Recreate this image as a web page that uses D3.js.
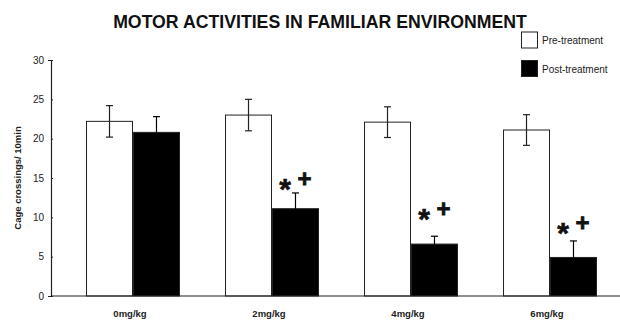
<!DOCTYPE html>
<html>
<head>
<meta charset="utf-8">
<script src="https://cdn.jsdelivr.net/npm/d3@7"></script>
<style>
  html, body { margin: 0; padding: 0; background: #fff; }
  svg { display: block; font-family: "Liberation Sans", Arial, sans-serif; }
</style>
</head>
<body>
<svg id="chart" width="620" height="320"></svg>
<script>
// Dose groups and treatment phases
const doses = ["0mg/kg", "2mg/kg", "4mg/kg", "6mg/kg"];
const phases = ["Pre-treatment", "Post-treatment"];

// Mean cage crossings per 10 min, with error (±)
const preMeans = [22.2, 23.0, 22.1, 21.1];
const preErrors = [2.0, 2.0, 1.95, 1.95];
const postMeans = [20.8, 11.1, 6.6, 4.9];
const postErrors = [2.0, 2.0, 1.0, 2.1];

// Significance markers over the post-treatment bars (value level where they sit)
const markerGroups = ["2mg/kg", "4mg/kg", "6mg/kg"];
const markerLevels = [14.4, 10.5, 8.8];

const yTicks = [0, 5, 10, 15, 20, 25, 30];

const svg = d3.select("#chart");
const colors = { "Pre-treatment": "#ffffff", "Post-treatment": "#000000" };

const y = d3.scaleLinear().domain([0, 30]).range([296, 60]);
const x0 = d3.scaleBand().domain(doses).range([63.5, 619.5])
  .paddingInner(0.324).paddingOuter(0.162);
const x1 = d3.scaleBand().domain(phases).range([0, x0.bandwidth()]).padding(0);

const rows = doses.map((d, i) => ({
  dose: d,
  values: [
    { phase: "Pre-treatment", mean: preMeans[i], err: preErrors[i] },
    { phase: "Post-treatment", mean: postMeans[i], err: postErrors[i] }
  ]
}));

// Title
svg.append("text")
  .attr("x", 320).attr("y", 28)
  .attr("text-anchor", "middle")
  .attr("font-size", 17.7).attr("font-weight", "bold")
  .attr("fill", "#111")
  .text("MOTOR ACTIVITIES IN FAMILIAR ENVIRONMENT");

// Y axis
const yAxis = svg.append("g")
  .attr("transform", "translate(51,0)")
  .call(d3.axisLeft(y).tickValues(yTicks).tickSize(3).tickPadding(4));
yAxis.select(".domain").attr("stroke", "#222").attr("stroke-width", 1.2);
yAxis.selectAll(".tick line").attr("stroke", "#222").attr("x2", 2);
yAxis.selectAll(".tick text").attr("font-size", 10).attr("fill", "#222")
  .attr("font-family", "'Liberation Sans', Arial, sans-serif");

svg.append("text")
  .attr("transform", "translate(21,178) rotate(-90)")
  .attr("text-anchor", "middle")
  .attr("font-size", 9.5).attr("font-weight", "bold").attr("fill", "#222")
  .text("Cage crossings/ 10min");

// Bars
const groups = svg.append("g").selectAll("g")
  .data(rows).join("g")
  .attr("transform", d => `translate(${x0(d.dose)},0)`);

groups.selectAll("rect")
  .data(d => d.values).join("rect")
  .attr("x", d => x1(d.phase) + 0.5)
  .attr("width", x1.bandwidth() - 1)
  .attr("y", d => y(d.mean))
  .attr("height", d => y(0) - y(d.mean))
  .attr("fill", d => colors[d.phase])
  .attr("stroke", "#222").attr("stroke-width", 1);

// Error bars
const cap = 3.5;
const eb = groups.selectAll("g.err")
  .data(d => d.values).join("g").attr("class", "err")
  .attr("stroke", d => d.phase === "Post-treatment" ? "#000" : "#222")
  .attr("stroke-width", 1.2);
eb.append("line")
  .attr("x1", d => x1(d.phase) + x1.bandwidth() / 2)
  .attr("x2", d => x1(d.phase) + x1.bandwidth() / 2)
  .attr("y1", d => y(d.mean + d.err))
  .attr("y2", d => y(d.mean - d.err));
eb.append("line")
  .attr("x1", d => x1(d.phase) + x1.bandwidth() / 2 - cap)
  .attr("x2", d => x1(d.phase) + x1.bandwidth() / 2 + cap)
  .attr("y1", d => y(d.mean + d.err))
  .attr("y2", d => y(d.mean + d.err));
eb.append("line")
  .attr("x1", d => x1(d.phase) + x1.bandwidth() / 2 - cap)
  .attr("x2", d => x1(d.phase) + x1.bandwidth() / 2 + cap)
  .attr("y1", d => y(d.mean - d.err))
  .attr("y2", d => y(d.mean - d.err));

// X axis baseline
svg.append("line")
  .attr("x1", 51).attr("x2", 620)
  .attr("y1", y(0)).attr("y2", y(0))
  .attr("stroke", "#222").attr("stroke-width", 1.2);

// Dose labels
svg.append("g").selectAll("text")
  .data(doses).join("text")
  .attr("x", d => x0(d) + x0.bandwidth() / 2 - 3)
  .attr("y", 317)
  .attr("text-anchor", "middle")
  .attr("font-size", 9.5).attr("font-weight", "bold").attr("fill", "#222")
  .text(d => d);

// Significance markers
const mk = svg.append("g").selectAll("g")
  .data(markerGroups.map((g, i) => ({ g, level: markerLevels[i] })))
  .join("g")
  .attr("transform", d => `translate(${x0(d.g) + x1("Post-treatment") + x1.bandwidth() / 2},${y(d.level)})`);
mk.append("text")
  .attr("x", -10.5).attr("y", 16)
  .attr("text-anchor", "middle")
  .attr("font-size", 30).attr("font-weight", "bold").attr("fill", "#111")
  .attr("stroke", "#111").attr("stroke-width", 0.6)
  .text("*");
mk.append("text")
  .attr("x", 9).attr("y", 4)
  .attr("text-anchor", "middle")
  .attr("font-size", 24).attr("font-weight", "bold").attr("fill", "#111")
  .attr("stroke", "#111").attr("stroke-width", 0.8)
  .text("+");

// Legend
const legend = svg.append("g").selectAll("g")
  .data(phases).join("g")
  .attr("transform", (d, i) => `translate(521.5,${32 + i * 28.5})`);
legend.append("rect")
  .attr("width", 16).attr("height", 16)
  .attr("fill", d => colors[d])
  .attr("stroke", "#222").attr("stroke-width", 1);
legend.append("text")
  .attr("x", 20.5).attr("y", 12)
  .attr("font-size", 10).attr("fill", "#222")
  .text(d => d);
</script>
</body>
</html>
